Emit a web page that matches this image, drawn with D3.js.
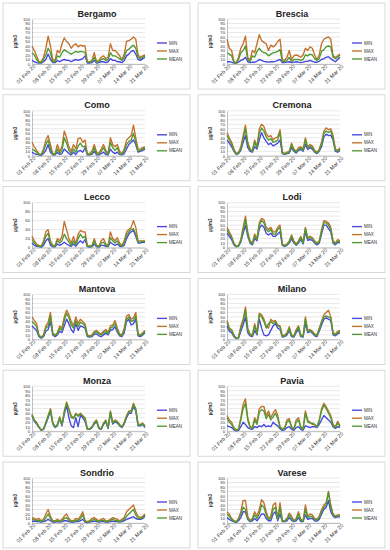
<!DOCTYPE html>
<html>
<head>
<meta charset="utf-8">
<script src="https://cdn.jsdelivr.net/npm/d3@7"></script>
<style>
  body { margin: 0; background: #fff; }
</style>
</head>
<body>
<div id="graf"></div>
<script>
// estaciones y fechas
const stations = ["Bergamo", "Brescia", "Como", "Cremona", "Lecco", "Lodi",
                  "Mantova", "Milano", "Monza", "Pavia", "Sondrio", "Varese"];
const seriesNames = ["MIN", "MAX", "MEAN"];
const tickLabels = ["01 Feb 20", "08 Feb 20", "15 Feb 20", "22 Feb 20",
                    "29 Feb 20", "07 Mar 20", "14 Mar 20", "21 Mar 20"];
const firstDay = "01 Feb 20";
const yTicksDefault = [0, 10, 20, 30, 40, 50, 60, 70, 80, 90, 100];
const yTicksLecco = [0, 20, 40, 60, 80, 100];

// valores diarios (ug/m3)
const bergamoMin  = [8,5,3,2,2,5,10,22,10,3,3,8,5,8,10,8,8,5,8,10,8,10,12,18,2,2,3,8,2,3,5,5,3,5,12,8,8,5,5,3,8,18,22,28,30,22,10,8,12,15];
const bergamoMax  = [40,30,18,5,5,15,35,62,40,10,8,30,25,45,58,50,45,35,42,45,38,42,40,40,5,5,8,25,5,8,15,18,12,15,45,30,30,25,18,10,22,50,52,55,60,55,20,15,18,20];
const bergamoMean = [25,20,10,3,3,10,20,35,25,5,5,18,15,25,32,28,25,22,25,28,26,28,27,26,4,4,5,15,4,5,10,12,8,10,25,18,18,15,12,8,15,30,33,38,42,35,15,12,15,18];

const bresciaMin  = [5,5,4,2,2,4,8,10,15,5,3,4,4,6,10,8,6,5,4,5,5,6,8,10,3,3,4,5,3,4,5,4,3,4,6,6,8,6,4,4,6,10,12,15,16,12,8,5,10,15];
const bresciaMax  = [55,35,30,5,3,15,35,45,62,15,8,30,25,45,65,52,48,45,30,42,38,42,50,55,10,8,15,30,10,18,20,18,15,20,35,30,38,35,20,10,20,45,55,58,60,55,18,15,18,22];
const bresciaMean = [25,22,18,3,2,10,25,30,40,10,5,18,15,28,35,28,25,24,18,22,25,26,28,32,6,5,8,15,5,10,10,10,8,10,20,18,22,20,12,8,12,28,32,38,40,38,15,12,15,20];

const comoMin  = [8,5,3,2,1,5,12,25,8,2,2,8,3,5,15,10,5,2,8,3,10,12,8,18,2,2,3,10,2,2,5,8,3,2,15,8,5,8,3,2,5,15,25,30,35,25,8,10,12,15];
const comoMax  = [30,20,12,5,3,15,35,45,25,5,5,25,10,20,55,40,20,10,25,15,38,40,30,35,5,5,10,25,8,5,15,25,12,5,40,25,20,25,10,5,15,35,40,45,68,40,15,15,18,20];
const comoMean = [15,12,8,3,2,10,25,35,15,3,3,15,5,12,40,28,12,5,15,8,22,28,20,22,3,3,5,18,4,3,10,18,8,3,30,18,12,18,5,3,10,25,32,35,50,30,10,12,15,18];

const cremonaMin  = [35,28,20,10,3,5,12,30,45,18,10,8,20,15,35,52,40,32,25,28,22,25,28,35,5,3,5,6,18,10,6,12,14,10,25,14,18,15,8,5,10,20,42,48,45,46,35,10,8,12];
const cremonaMax  = [52,40,30,15,5,8,20,45,68,30,15,12,35,20,60,70,65,50,42,45,35,40,42,58,8,5,8,10,28,15,10,18,20,15,40,20,25,22,12,8,15,30,55,62,58,60,45,15,12,18];
const cremonaMean = [45,35,25,12,4,6,15,38,60,25,12,10,30,18,50,62,55,42,35,38,30,32,35,52,6,4,6,8,24,12,8,15,17,12,35,17,22,18,10,6,12,25,50,55,52,55,40,12,10,15];

const leccoMin  = [10,5,3,2,1,5,15,20,5,2,2,8,5,8,12,8,5,3,8,3,10,15,10,18,2,1,2,8,2,1,5,5,3,2,12,8,5,8,3,2,5,20,30,35,38,25,10,10,12,12];
const leccoMax  = [25,15,8,5,3,15,35,40,15,5,5,20,15,25,58,40,20,10,25,8,30,38,35,35,5,3,5,20,5,3,15,20,8,5,35,20,15,22,10,5,15,35,40,45,60,45,15,15,15,15];
const leccoMean = [18,10,5,3,2,10,25,32,10,3,3,15,10,15,30,20,12,5,15,5,20,30,22,25,3,2,3,15,3,2,10,12,5,3,22,15,10,15,6,3,10,28,35,40,42,30,12,12,14,14];

const lodiMin  = [32,25,18,6,2,3,12,32,50,25,10,6,20,15,42,50,45,32,28,32,25,25,30,35,5,3,5,10,20,10,5,10,18,8,35,16,18,16,10,6,10,30,50,50,42,35,10,6,12,10];
const lodiMax  = [45,35,25,10,3,5,18,45,70,35,15,10,30,20,55,65,62,45,40,45,35,35,45,50,8,5,8,15,28,15,8,15,25,12,45,22,25,22,15,10,15,40,60,58,55,45,15,10,18,15];
const lodiMean = [40,30,22,8,2,4,15,40,62,30,12,8,25,18,50,60,55,40,35,40,30,30,40,45,6,4,6,12,25,12,6,12,22,10,42,20,22,20,12,8,12,35,55,55,50,40,12,8,15,12];

const mantovaMin  = [30,25,20,6,3,6,18,22,40,10,6,10,18,15,30,45,35,22,15,35,20,30,28,25,6,5,6,12,12,8,6,10,14,10,20,22,28,16,8,6,15,40,45,32,35,45,8,6,10,15];
const mantovaMax  = [50,42,35,10,5,10,30,38,60,15,10,15,30,25,50,65,55,40,30,50,35,45,40,35,10,8,10,18,20,15,12,18,22,15,30,32,42,25,12,10,25,52,55,45,48,60,12,10,15,20];
const mantovaMean = [40,35,28,8,4,8,25,30,52,12,8,12,25,20,42,58,48,32,25,42,28,38,35,30,8,6,8,15,17,12,10,15,18,12,25,28,35,20,10,8,20,45,50,40,42,52,10,8,12,18];

const milanoMin  = [30,18,15,6,2,3,18,32,50,15,8,6,20,10,45,25,10,8,10,20,30,35,25,22,5,6,10,20,6,5,15,22,6,5,35,15,18,14,8,6,18,32,45,48,45,42,10,8,12,15];
const milanoMax  = [42,25,22,10,3,5,30,45,72,25,12,10,35,15,58,55,45,30,25,45,40,42,32,30,8,10,15,28,10,8,22,30,10,8,50,20,22,18,12,10,25,40,55,60,65,50,15,12,18,20];
const milanoMean = [38,22,20,8,2,4,25,40,65,20,10,8,30,12,55,50,40,25,35,40,35,40,30,28,6,8,12,25,8,6,18,28,8,6,45,18,20,16,10,8,22,38,50,52,50,48,12,10,15,18];

const monzaMin  = [34,22,16,8,2,4,16,30,45,16,8,12,28,12,38,58,30,12,8,30,10,35,30,22,4,4,8,16,21,6,4,15,21,6,40,16,21,18,12,8,16,30,40,40,55,45,12,12,15,8];
const monzaMax  = [38,25,20,10,3,5,20,35,50,20,10,15,32,15,45,65,50,35,30,40,35,40,35,30,5,5,10,20,25,8,5,18,25,8,45,20,25,22,15,10,20,35,45,45,62,50,15,15,18,12];
const monzaMean = [36,24,18,9,3,5,18,33,48,18,9,14,30,14,42,62,48,30,28,38,33,38,33,28,5,5,9,18,23,7,5,17,23,7,43,18,23,20,14,9,18,33,43,43,60,48,14,14,16,10];

const paviaMin  = [12,10,8,3,1,2,10,20,15,8,5,4,10,8,12,10,15,10,12,10,20,15,12,5,2,3,8,10,4,2,8,10,4,2,12,10,8,10,10,8,15,25,35,30,25,20,10,6,10,8];
const paviaMax  = [35,25,20,8,3,5,30,60,72,30,10,8,30,20,50,55,55,35,45,30,40,48,35,10,5,8,25,28,10,5,25,30,10,5,45,25,20,15,15,10,25,50,62,55,45,35,15,10,22,12];
const paviaMean = [30,20,15,6,2,4,25,50,62,25,8,6,25,15,42,48,45,28,38,25,32,40,28,8,4,6,20,24,8,4,20,25,8,4,40,20,18,18,15,10,22,45,58,50,40,30,12,8,18,10];

const sondrioMin  = [4,4,3,3,2,3,5,8,5,2,2,3,2,3,5,5,3,2,2,3,3,5,8,2,1,2,3,4,3,2,3,3,2,2,3,4,3,3,2,3,5,8,10,12,14,10,8,8,10,15];
const sondrioMax  = [12,10,8,10,5,8,20,30,15,5,5,8,5,8,15,20,10,5,5,10,8,15,25,5,3,5,10,12,8,5,8,10,5,5,8,12,10,8,5,8,12,25,30,35,40,25,15,12,15,20];
const sondrioMean = [8,7,5,6,3,5,12,20,10,3,3,5,3,5,10,12,6,3,3,6,5,10,18,3,2,3,6,8,5,3,5,6,3,3,6,8,6,5,3,5,8,15,20,25,30,18,10,10,12,18];

const vareseMin  = [12,8,5,3,1,5,12,25,25,8,3,5,10,5,12,20,20,10,5,5,20,25,5,20,3,3,5,12,6,3,5,12,3,3,18,8,10,10,5,4,8,20,30,35,50,25,15,12,14,14];
const vareseMax  = [25,20,10,5,3,10,25,50,50,15,5,10,25,15,30,52,45,25,10,15,40,45,10,45,5,5,10,22,15,5,10,25,8,5,40,15,20,18,10,8,15,30,40,45,70,40,20,15,18,18];
const vareseMean = [20,15,8,4,2,8,20,35,30,10,4,8,18,10,20,40,35,18,8,10,30,35,8,35,4,4,8,18,10,4,8,20,6,4,30,12,15,14,8,6,12,25,35,40,68,35,18,14,16,16];

const table = {
  Bergamo: [bergamoMin, bergamoMax, bergamoMean],
  Brescia: [bresciaMin, bresciaMax, bresciaMean],
  Como:    [comoMin, comoMax, comoMean],
  Cremona: [cremonaMin, cremonaMax, cremonaMean],
  Lecco:   [leccoMin, leccoMax, leccoMean],
  Lodi:    [lodiMin, lodiMax, lodiMean],
  Mantova: [mantovaMin, mantovaMax, mantovaMean],
  Milano:  [milanoMin, milanoMax, milanoMean],
  Monza:   [monzaMin, monzaMax, monzaMean],
  Pavia:   [paviaMin, paviaMax, paviaMean],
  Sondrio: [sondrioMin, sondrioMax, sondrioMean],
  Varese:  [vareseMin, vareseMax, vareseMean]
};

const colors = { MIN: "#4646e0", MAX: "#c2702a", MEAN: "#4e9a32" };

const width = 390, height = 550;
const parseDay = d3.timeParse("%d %b %y");
const start = parseDay(firstDay);

const svg = d3.select("#graf").append("svg")
    .attr("width", width)
    .attr("height", height)
    .attr("font-family", "Liberation Sans, Arial, sans-serif");

const x = d3.scaleTime()
    .domain([start, parseDay(tickLabels[tickLabels.length - 1])])
    .range([29, 142]);

const y = d3.scaleLinear()
    .domain([0, 100])
    .range([51, 6]);

const line = d3.line()
    .x((d, i) => x(d3.timeDay.offset(start, i)))
    .y(d => y(d));

stations.forEach((name, k) => {
  const col = k % 2, row = Math.floor(k / 2);
  const gx = 3 + col * 195;
  const gy = 13 + row * 91.8;   // linea base del titulo
  const g = svg.append("g").attr("transform", `translate(${gx},${gy})`);

  // marco
  g.append("rect")
      .attr("x", 0).attr("y", -10)
      .attr("width", 187).attr("height", 86)
      .attr("fill", "#fff")
      .attr("stroke", "#cfcfcf")
      .attr("stroke-width", 0.8);

  g.append("text")
      .attr("x", 94).attr("y", 3.5)
      .attr("text-anchor", "middle")
      .attr("font-size", 9)
      .attr("font-weight", "bold")
      .attr("fill", "#222")
      .text(name);

  const yTicks = name === "Lecco" ? yTicksLecco : yTicksDefault;

  // lineas de cuadricula
  g.append("g")
    .selectAll("line")
    .data(yTicks)
    .join("line")
      .attr("x1", x.range()[0]).attr("x2", x.range()[1])
      .attr("y1", d => y(d)).attr("y2", d => y(d))
      .attr("stroke", "#d9d9d9")
      .attr("stroke-width", 0.6);

  g.append("g")
      .attr("transform", `translate(${x.range()[0]},0)`)
      .call(d3.axisLeft(y).tickValues(yTicks).tickSize(0).tickPadding(2))
      .call(a => a.select(".domain").attr("stroke", "#999").attr("stroke-width", 0.6))
      .call(a => a.selectAll("text").attr("font-size", 4.2).attr("fill", "#333"));

  g.append("g")
      .attr("transform", `translate(0,${y(0)})`)
      .call(d3.axisBottom(x).tickValues(tickLabels.map(parseDay))
              .tickFormat(d3.timeFormat("%d %b %y")).tickSize(0).tickPadding(2))
      .call(a => a.select(".domain").attr("stroke", "#999").attr("stroke-width", 0.6))
      .call(a => a.selectAll("text")
          .attr("font-size", 5.4)
          .attr("fill", "#333")
          .attr("text-anchor", "end")
          .attr("transform", "translate(2,1.5) rotate(-45)")
          .attr("dy", "0.35em")
          .attr("y", 0));

  g.append("text")
      .attr("transform", `translate(14,${(y(0) + y(100)) / 2}) rotate(-90)`)
      .attr("text-anchor", "middle")
      .attr("font-size", 4.5)
      .attr("font-weight", "bold")
      .attr("fill", "#333")
      .text("µg/m3");

  seriesNames.forEach((s, j) => {
    g.append("path")
        .attr("fill", "none")
        .attr("stroke", colors[s])
        .attr("stroke-width", 1.35)
        .attr("stroke-linejoin", "round")
        .attr("d", line(table[name][j]));

    const ly = 30 + j * 8;
    g.append("line")
        .attr("x1", 154).attr("x2", 164)
        .attr("y1", ly).attr("y2", ly)
        .attr("stroke", colors[s])
        .attr("stroke-width", 1.35);
    g.append("text")
        .attr("x", 166).attr("y", ly)
        .attr("dy", "0.35em")
        .attr("font-size", 4.5)
        .attr("fill", "#333")
        .text(s);
  });
});
</script>
</body>
</html>
